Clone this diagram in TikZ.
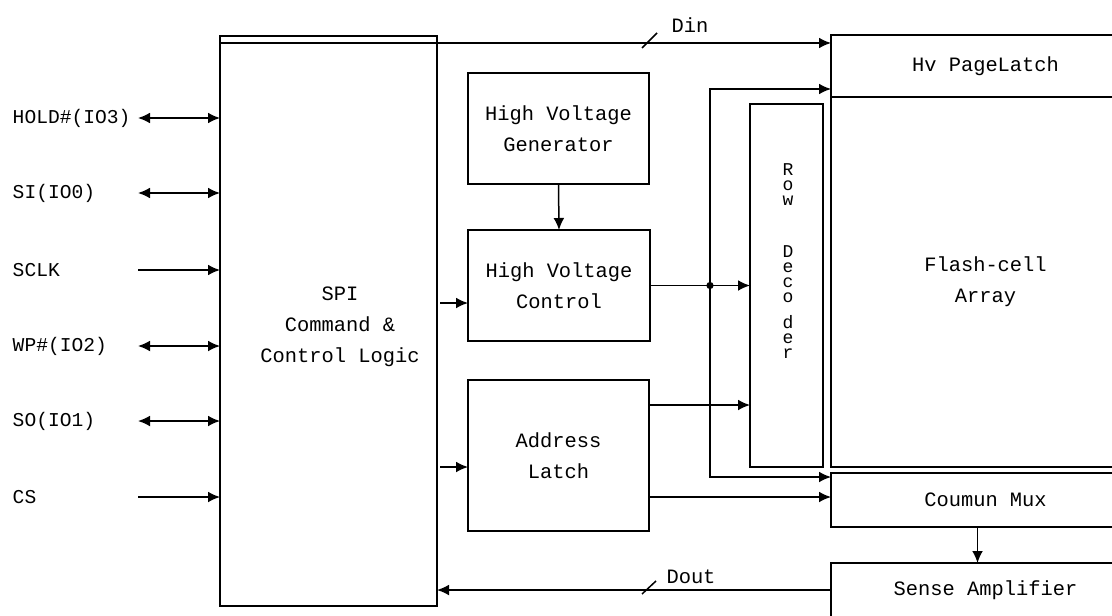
\documentclass[tikz,border=0pt]{standalone}
\usepackage{fontspec}
\setmainfont{Liberation Mono}
\usetikzlibrary{arrows.meta,positioning}

\begin{document}
\begin{tikzpicture}[x=0.5pt,y=-0.5pt,line width=0.75pt,
    >={Latex[length=6pt,width=5.4pt]},
    box/.style={draw,rectangle,outer sep=0pt,inner sep=0pt,align=center,font=\fontsize{10.2}{15.5}\selectfont},
    txt/.style={inner sep=0pt,font=\fontsize{10.2}{15.5}\selectfont},
    pinboth/.style={<->},
    pinin/.style={->}]
    \useasboundingbox (0,0) rectangle (1112,615);
    \clip (0,0) rectangle (1112,615);

    % Control logic
    \node[box,minimum width=108.5pt,minimum height=285pt] (spi) at (328.5,321) {};
    \draw ([yshift=-3.5pt]spi.north west) -- ([yshift=-3.5pt]spi.north east);
    \node[txt,align=center] (spitext) at (340,327) {SPI\\Command \&\\Control Logic};

    % Pins
    \foreach \name/\pin/\y/\tip in {hold/HOLD\#(IO3)/118/pinboth, si/SI(IO0)/193/pinboth,
        sclk/SCLK/270/pinin, wp/WP\#(IO2)/346/pinboth, so/SO(IO1)/421/pinboth, cs/CS/497/pinin} {
        \node[txt,anchor=west,font=\fontsize{9.8}{12}\selectfont] (\name) at (12,\y) {\pin};
        \coordinate (p\name) at (138,\y);
        \draw[\tip] (p\name) -- (p\name -| spi.west);
    }

    % High voltage and address
    \node[box,minimum width=90.5pt,minimum height=55.5pt] (hvg) at (558.5,128.5) {High Voltage\\Generator};
    \node[box,line width=1.2pt,minimum width=91pt,minimum height=55.5pt] (hvc) at (559,285.5) {High Voltage\\Control};
    \node[box,minimum width=90.5pt,minimum height=75.5pt] (adl) at (558.5,455.5) {Address\\Latch};

    % Row decoder
    \node[box,minimum width=36.5pt,minimum height=181.5pt] (rowd) at (786.5,285.5) {};
    \foreach \ch/\y [count=\i] in {R/175,o/190,w/205,D/257,e/272,c/287,o/302,d/328,e/343,r/358}
        \node[txt,anchor=base,font=\fontsize{9}{10}\selectfont] (rd\i) at (788,\y) {\ch};

    % Memory array
    \node[box,minimum width=154.5pt,minimum height=31pt] (hvpl) at (985.5,66) {Hv PageLatch};
    \node[box,minimum width=154.5pt,minimum height=185pt] (flash) at (985.5,282) {Flash-cell\\Array};
    \node[box,minimum width=154.5pt,minimum height=27pt] (cmux) at (985.5,500) {Coumun Mux};
    \node[box,minimum width=154.5pt,minimum height=27pt] (sense) at (985.5,590) {Sense Amplifier};

    % Data in
    \coordinate (din) at (437,43);
    \draw[->] (din) -- (din -| hvpl.west);
    \draw (642,48) -- (657,33);
    \node[txt] (dinlabel) at (690,25) {Din};

    % Control paths
    \draw[->] (hvg.south) -- (hvc.north);
    \coordinate (spihv) at (440,303);
    \draw[->] (spihv) -- (spihv -| hvc.west);
    \coordinate (spiad) at (440,467);
    \draw[->] (spiad) -- (spiad -| adl.west);
    \draw[->] (hvc.east) -- (rowd.west);
    \coordinate (bustop) at (710,89);
    \coordinate (busbot) at (710,477);
    \draw[<->] (bustop -| hvpl.west) -- (bustop) -- (busbot) -- (busbot -| cmux.west);
    \fill (bustop |- hvc.east) circle (1.8pt);
    \draw[->] (adl.east |- 0,405) -- (rowd.west |- 0,405);
    \draw[->] (adl.east |- 0,497) -- (cmux.west |- 0,497);
    \draw[->] ([xshift=-4pt]cmux.south) -- ([xshift=-4pt]sense.north);

    % Data out
    \draw[->] (sense.west) -- (sense.west -| spi.east);
    \draw (642,594) -- (656,581);
    \node[txt] (doutlabel) at (691,577) {Dout};
\end{tikzpicture}
\end{document}
